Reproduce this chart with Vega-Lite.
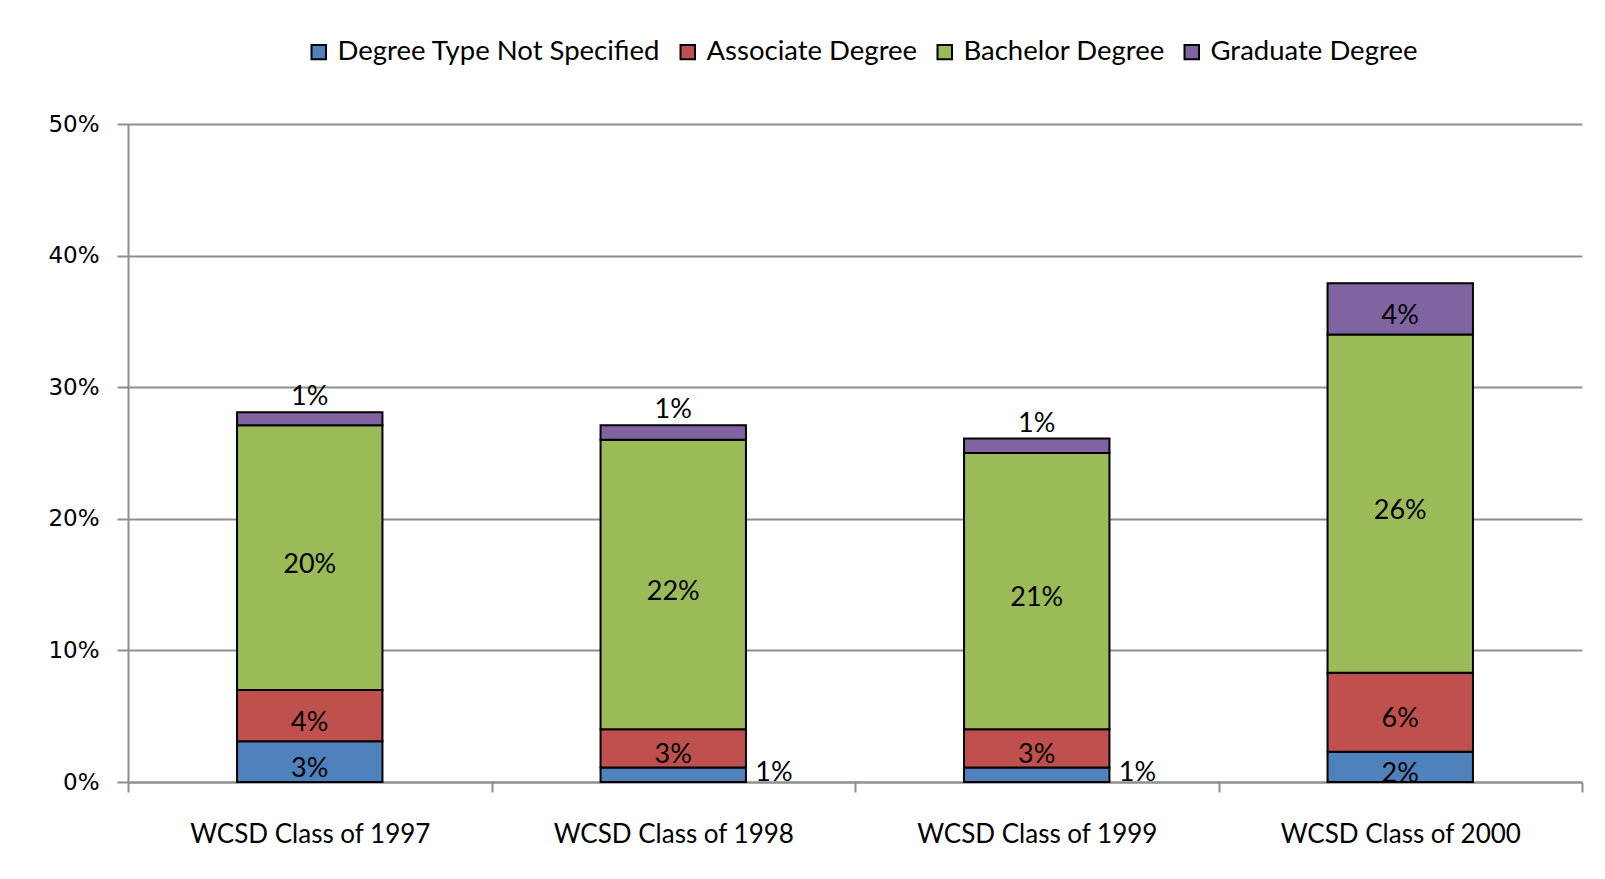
{
  "$schema": "https://vega.github.io/schema/vega-lite/v6.json",
  "width": 1454,
  "height": 658,
  "autosize": {"type": "none"},
  "padding": {"left": 128, "top": 124, "right": 23, "bottom": 97},
  "background": "white",
  "config": {"view": {"stroke": null}, "font": "Lato"},
  "data": {
    "values": [
      {"cls": "WCSD Class of 1997", "type": "Degree Type Not Specified", "order": 1, "value": 0.031},
      {"cls": "WCSD Class of 1997", "type": "Associate Degree", "order": 2, "value": 0.039},
      {"cls": "WCSD Class of 1997", "type": "Bachelor Degree", "order": 3, "value": 0.201},
      {"cls": "WCSD Class of 1997", "type": "Graduate Degree", "order": 4, "value": 0.010},
      {"cls": "WCSD Class of 1998", "type": "Degree Type Not Specified", "order": 1, "value": 0.011},
      {"cls": "WCSD Class of 1998", "type": "Associate Degree", "order": 2, "value": 0.029},
      {"cls": "WCSD Class of 1998", "type": "Bachelor Degree", "order": 3, "value": 0.220},
      {"cls": "WCSD Class of 1998", "type": "Graduate Degree", "order": 4, "value": 0.011},
      {"cls": "WCSD Class of 1999", "type": "Degree Type Not Specified", "order": 1, "value": 0.011},
      {"cls": "WCSD Class of 1999", "type": "Associate Degree", "order": 2, "value": 0.029},
      {"cls": "WCSD Class of 1999", "type": "Bachelor Degree", "order": 3, "value": 0.210},
      {"cls": "WCSD Class of 1999", "type": "Graduate Degree", "order": 4, "value": 0.011},
      {"cls": "WCSD Class of 2000", "type": "Degree Type Not Specified", "order": 1, "value": 0.023},
      {"cls": "WCSD Class of 2000", "type": "Associate Degree", "order": 2, "value": 0.060},
      {"cls": "WCSD Class of 2000", "type": "Bachelor Degree", "order": 3, "value": 0.257},
      {"cls": "WCSD Class of 2000", "type": "Graduate Degree", "order": 4, "value": 0.039}
    ]
  },
  "transform": [
    {"stack": "value", "groupby": ["cls"], "sort": [{"field": "order", "order": "ascending"}], "as": ["y0", "y1"]},
    {"calculate": "(datum.y0 + datum.y1) / 2", "as": "ymid"}
  ],
  "encoding": {
    "x": {
      "field": "cls",
      "type": "nominal",
      "sort": null,
      "scale": {"paddingInner": 0, "paddingOuter": 0},
      "axis": {
        "title": null,
        "labelAngle": 0,
        "tickBand": "extent",
        "tickSize": 10,
        "tickColor": "#8e8e8e",
        "tickWidth": 2,
        "domainColor": "#8e8e8e",
        "domainWidth": 2,
        "labelFont": "Lato",
        "labelFontSize": 26,
        "labelColor": "black",
        "labelLimit": 400,
        "labelPadding": 29
      }
    }
  },
  "layer": [
    {
      "mark": {"type": "bar", "width": {"band": 0.4}, "stroke": "black", "strokeWidth": 2},
      "encoding": {
        "y": {
          "field": "y1",
          "type": "quantitative",
          "scale": {"domain": [0, 0.5]},
          "axis": {
            "values": [0, 0.1, 0.2, 0.3, 0.4, 0.5],
            "format": ".0%",
            "title": null,
            "grid": true,
            "gridColor": "#8e8e8e",
            "gridWidth": 2,
            "domainColor": "#8e8e8e",
            "domainWidth": 2,
            "tickColor": "#8e8e8e",
            "tickWidth": 2,
            "tickSize": 11,
            "labelFont": "DejaVu Sans",
            "labelFontSize": 23,
            "labelColor": "black",
            "labelPadding": 18
          }
        },
        "y2": {"field": "y0"},
        "color": {
          "field": "type",
          "type": "nominal",
          "scale": {
            "domain": ["Degree Type Not Specified", "Associate Degree", "Bachelor Degree", "Graduate Degree"],
            "range": ["#4F81BD", "#C0504D", "#9BBB59", "#8064A2"]
          },
          "legend": {
            "orient": "none",
            "legendX": 177,
            "legendY": -86,
            "direction": "horizontal",
            "title": null,
            "labelFont": "Lato",
            "labelFontSize": 27.5,
            "labelColor": "black",
            "labelLimit": 500,
            "symbolType": "square",
            "symbolSize": 210,
            "symbolStrokeColor": "black",
            "symbolStrokeWidth": 2,
            "symbolOpacity": 1,
            "labelOffset": 5,
            "columnPadding": 13
          }
        }
      }
    },
    {
      "transform": [{"filter": "datum.value >= 0.015"}],
      "mark": {"type": "text", "fontSize": 27, "font": "Lato", "baseline": "middle", "dy": 7, "color": "black"},
      "encoding": {
        "y": {"field": "ymid", "type": "quantitative"},
        "text": {"field": "value", "type": "quantitative", "format": ".0%"}
      }
    },
    {
      "transform": [{"filter": "datum.value < 0.015 && datum.type == 'Graduate Degree'"}],
      "mark": {"type": "text", "fontSize": 27, "font": "Lato", "baseline": "middle", "dy": -15, "color": "black"},
      "encoding": {
        "y": {"field": "y1", "type": "quantitative"},
        "text": {"field": "value", "type": "quantitative", "format": ".0%"}
      }
    },
    {
      "transform": [{"filter": "datum.value < 0.015 && datum.type == 'Degree Type Not Specified'"}],
      "mark": {"type": "text", "fontSize": 27, "font": "Lato", "baseline": "middle", "align": "left", "dx": 82, "dy": -2, "color": "black"},
      "encoding": {
        "y": {"field": "ymid", "type": "quantitative"},
        "text": {"field": "value", "type": "quantitative", "format": ".0%"}
      }
    }
  ]
}
